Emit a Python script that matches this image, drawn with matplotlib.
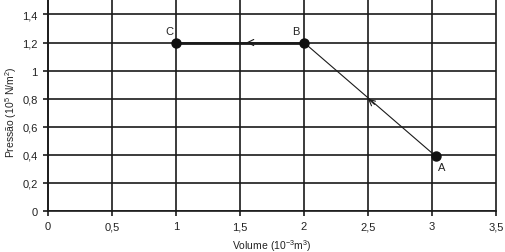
import matplotlib.pyplot as plt

plt.rcParams['font.family'] = ['Liberation Sans', 'DejaVu Sans']
plt.rcParams['mathtext.fontset'] = 'custom'
plt.rcParams['mathtext.rm'] = 'Liberation Sans'
plt.rcParams['mathtext.it'] = 'Liberation Sans'

# pontos do ciclo
point_names = ['A', 'B', 'C']
volume = [3.03, 2.0, 1.0]
pressure = [0.39, 1.2, 1.2]

x_ticks = [0, 0.5, 1, 1.5, 2, 2.5, 3, 3.5]
x_tick_labels = ['0', '0,5', '1', '1,5', '2', '2,5', '3', '3,5']
y_ticks = [0, 0.2, 0.4, 0.6, 0.8, 1.0, 1.2, 1.4]
y_tick_labels = ['0', '0,2', '0,4', '0,6', '0,8', '1', '1,2', '1,4']

fig = plt.figure(figsize=(5.06, 2.53), dpi=100)
ax = fig.add_axes([0.095, 0.162, 0.885, 0.838])

ax.set_xlim(0, 3.5)
ax.set_ylim(0, 1.51)
ax.set_xticks(x_ticks)
ax.set_xticklabels(x_tick_labels, fontsize=8, color='#222222')
ax.set_yticks(y_ticks)
ax.set_yticklabels(y_tick_labels, fontsize=8, color='#222222')
ax.tick_params(length=3.5, width=1.2, color='#1a1a1a', pad=4)

for x in x_ticks:
    ax.axvline(x, color='#1a1a1a', lw=1.2, zorder=1, clip_on=False)
for y in y_ticks:
    ax.axhline(y, color='#1a1a1a', lw=1.2, zorder=1)

for side in ['top', 'right']:
    ax.spines[side].set_visible(False)
for side in ['left', 'bottom']:
    ax.spines[side].set_linewidth(1.2)
    ax.spines[side].set_color('#1a1a1a')

# A -> B (fina) e B -> C (grossa)
ax.plot(volume[:2], pressure[:2], color='#1a1a1a', lw=0.8, zorder=2)
ax.plot(volume[1:], pressure[1:], color='#1a1a1a', lw=2.0, zorder=2)

# setas no meio dos segmentos
for i in range(2):
    x0, y0 = volume[i], pressure[i]
    x1, y1 = volume[i + 1], pressure[i + 1]
    if i == 0:
        xm, ym = 2.5, 0.8
    else:
        xm, ym = 1.55, 1.2
    ax.annotate('', xy=(xm, ym),
                xytext=(xm + (x0 - x1) * 0.05, ym + (y0 - y1) * 0.05),
                arrowprops=dict(arrowstyle='->', color='#1a1a1a', lw=0.8,
                                mutation_scale=11, shrinkA=0, shrinkB=0),
                zorder=3)

ax.plot(volume, pressure, 'o', color='#111111', ms=6.5, zorder=4, clip_on=False)

label_offsets = {'A': (3.08, 0.31), 'B': (1.94, 1.28), 'C': (0.95, 1.28)}
for name in point_names:
    lx, ly = label_offsets[name]
    ax.text(lx, ly, name, fontsize=8, color='#222222', ha='center', va='center')

ax.set_xlabel(r'Volume (10$^{-3}$m$^3$)', fontsize=7.5, color='#222222')
ax.set_ylabel(r'Pressão (10$^5$ N/m$^2$)', fontsize=7.5, color='#222222')
ax.xaxis.set_label_coords(0.5, -0.125)
ax.yaxis.set_label_coords(-0.066, 0.47)

fig.savefig('out.png', dpi=100)
